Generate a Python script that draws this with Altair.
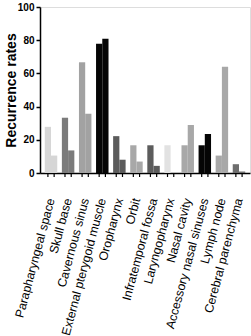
import altair as alt
import pandas as pd

categories = [
    "Parapharyngeal space", "Skull base", "Cavernous sinus",
    "External pterygoid muscle", "Oropharynx", "Orbit",
    "Infratemporal fossa", "Laryngopharynx", "Nasal cavity",
    "Accessory nasal sinuses", "Lymph node", "Cerebral parenchyma",
]
series_1 = [27.8, 33.3, 66.7, 77.8, 22.2, 16.7, 16.7, 16.7, 16.7, 16.7, 10.5, 5.3]
series_2 = [10.5, 13.6, 35.7, 80.9, 8.0, 6.9, 4.3, 0.0, 28.9, 23.5, 64.0, 0.9]
group_colors = [
    "#d6d6d6", "#7b7b7b", "#a2a2a2", "#050505", "#5c5c5c", "#a8a8a8",
    "#5c5c5c", "#e2e2e2", "#a8a8a8", "#050505", "#a8a8a8", "#6e6e6e",
]

rows = []
for c, a, b in zip(categories, series_1, series_2):
    rows.append({"site": c, "series": "1", "rate": a})
    rows.append({"site": c, "series": "2", "rate": b})
df = pd.DataFrame(rows)

FONT = "Liberation Sans"
H = 166

x_enc = alt.X(
    "site:N", sort=categories,
    scale=alt.Scale(paddingInner=0.27, paddingOuter=0.28),
    axis=alt.Axis(
        title=None, labelAngle=-75, labelFontSize=12.3, labelFont=FONT,
        labelColor="black", ticks=False, labelPadding=25,
        domainColor="black", domainWidth=1.5, labelLimit=300,
        labelOverlap=False,
    ),
)
xo = alt.XOffset("series:N", sort=["1", "2"])

bars = alt.Chart(df).mark_bar().encode(
    x=x_enc,
    xOffset=xo,
    y=alt.Y(
        "rate:Q",
        scale=alt.Scale(domain=[0, 100], nice=False),
        axis=alt.Axis(
            values=[0, 20, 40, 60, 80, 100], title="Recurrence rates",
            titleFontSize=14, titleFont=FONT, titleFontWeight="bold",
            titleColor="black", titleX=-22,
            labelFontSize=10, labelFont=FONT, labelFontWeight="bold",
            labelColor="black", tickColor="black", tickSize=4,
            tickWidth=1.5, domainColor="black", domainWidth=1.5,
            labelPadding=2, grid=False,
        ),
    ),
    color=alt.Color(
        "site:N", sort=categories,
        scale=alt.Scale(domain=categories, range=group_colors), legend=None,
    ),
)

ticks = alt.Chart(df).mark_rule(color="black", strokeWidth=1.2).encode(
    x=alt.X("site:N", sort=categories),
    xOffset=xo,
    y=alt.value(H),
    y2=alt.value(H + 4),
)

chart = alt.layer(bars, ticks).properties(
    width=210, height=H,
    autosize=alt.AutoSizeParams(type="none"),
    padding={"left": 40, "top": 7, "right": 1, "bottom": 163},
).configure_view(stroke=None).configure(background="white")

chart.save("out.html", embed_options={"renderer": "svg", "actions": False})
